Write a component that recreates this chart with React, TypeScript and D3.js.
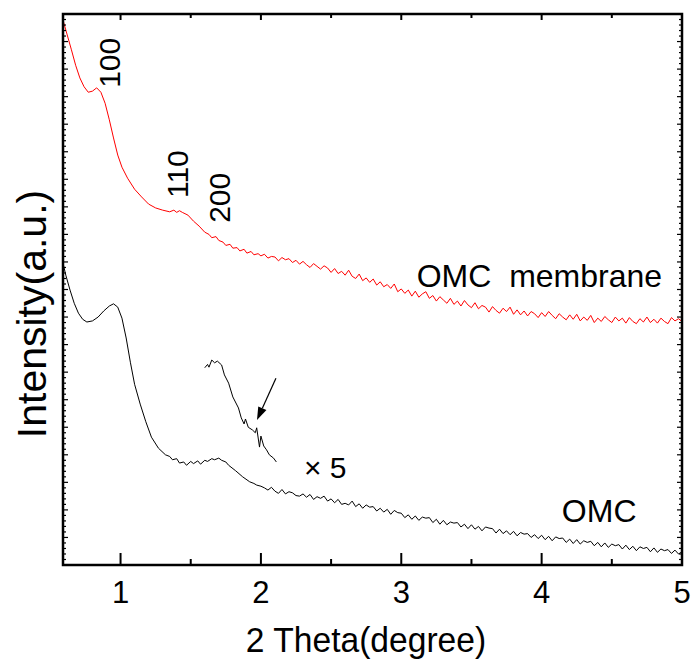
import * as d3 from "d3";
import React from "react";

// OMC membrane (red) – 2θ, intensity (a.u.)
const membrane: [number, number][] = [
  [0.59, 98.9], [0.62, 96.2], [0.65, 93.5], [0.68, 90.7], [0.71, 88.4], [0.74, 86.8],
  [0.77, 85.8], [0.8, 86.0], [0.83, 86.6], [0.86, 85.8], [0.89, 83.8], [0.92, 80.8],
  [0.95, 77.5], [0.98, 74.4], [1.01, 72.2], [1.05, 70.2], [1.1, 68.2], [1.15, 66.8],
  [1.2, 65.5], [1.25, 64.8], [1.3, 64.4], [1.35, 64.1], [1.38, 64.4], [1.4, 64.0],
  [1.42, 64.3], [1.44, 64.0], [1.48, 63.5], [1.52, 62.4], [1.56, 61.5], [1.6, 60.4],
  [1.63, 60.0], [1.65, 59.4], [1.68, 59.6], [1.7, 58.9], [1.73, 58.6], [1.75, 58.0],
  [1.78, 58.2], [1.8, 57.5], [1.83, 57.6], [1.85, 57.0], [1.88, 57.3], [1.9, 56.6],
  [1.93, 56.9], [1.95, 56.3], [1.98, 56.5],
  [2.0, 56.1], [2.025, 56.4], [2.05, 55.7], [2.075, 56.0], [2.1, 55.9], [2.125, 55.2],
  [2.15, 55.8], [2.175, 55.4], [2.2, 55.6], [2.225, 54.9], [2.25, 55.3], [2.275, 54.6],
  [2.3, 55.1], [2.325, 54.5], [2.35, 54.0], [2.375, 54.7], [2.4, 54.2], [2.425, 53.7],
  [2.45, 54.3], [2.475, 53.9], [2.5, 53.1], [2.525, 53.8], [2.55, 52.9], [2.575, 53.3],
  [2.6, 52.6], [2.625, 53.5], [2.65, 52.4], [2.675, 52.0], [2.7, 52.8], [2.725, 51.6],
  [2.75, 52.1], [2.775, 51.3], [2.8, 51.9], [2.825, 50.8], [2.85, 51.4], [2.875, 50.5],
  [2.9, 50.9], [2.925, 50.2], [2.95, 51.0], [2.975, 49.6], [3.0, 50.1], [3.025, 49.3],
  [3.05, 49.9], [3.075, 48.8], [3.1, 49.7], [3.125, 48.6], [3.15, 49.2], [3.175, 49.6],
  [3.2, 48.4], [3.225, 48.9], [3.25, 47.9], [3.275, 48.7], [3.3, 48.1], [3.325, 47.5],
  [3.35, 48.4], [3.375, 47.3], [3.4, 47.9], [3.425, 47.0], [3.45, 48.0], [3.475, 47.2],
  [3.5, 46.7], [3.525, 47.6], [3.55, 46.5], [3.575, 47.1], [3.6, 46.8], [3.625, 45.9],
  [3.65, 46.9], [3.675, 46.2], [3.7, 45.7], [3.725, 46.6], [3.75, 46.0], [3.775, 46.8],
  [3.8, 45.5], [3.825, 46.3], [3.85, 45.4], [3.875, 46.1], [3.9, 45.2], [3.925, 46.0],
  [3.95, 45.6], [3.975, 44.9], [4.0, 45.8], [4.025, 45.1], [4.05, 46.0], [4.075, 45.3],
  [4.1, 44.7], [4.125, 45.6], [4.15, 45.0], [4.175, 44.5], [4.2, 45.4], [4.225, 44.6],
  [4.25, 45.5], [4.275, 44.3], [4.3, 45.0], [4.325, 44.4], [4.35, 45.3], [4.375, 44.0],
  [4.4, 44.8], [4.425, 44.2], [4.45, 45.1], [4.475, 44.5], [4.5, 44.0], [4.525, 45.0],
  [4.55, 44.3], [4.575, 44.8], [4.6, 43.9], [4.625, 44.9], [4.65, 44.2], [4.675, 43.8],
  [4.7, 44.7], [4.725, 44.1], [4.75, 45.0], [4.775, 44.0], [4.8, 44.6], [4.825, 43.9],
  [4.85, 44.8], [4.875, 44.2], [4.9, 43.8], [4.925, 44.9], [4.95, 44.3], [4.975, 44.7],
  [5.0, 44.2],
];

// OMC powder (black)
const omc: [number, number][] = [
  [0.59, 54.8], [0.61, 52.6], [0.64, 49.9], [0.67, 47.5], [0.7, 45.7], [0.73, 44.6],
  [0.76, 44.1], [0.8, 44.3], [0.84, 45.0], [0.88, 46.1], [0.92, 47.0], [0.95, 47.4],
  [0.98, 46.8], [1.01, 44.8], [1.04, 41.2], [1.07, 36.8], [1.1, 32.8], [1.14, 29.2],
  [1.18, 26.0], [1.22, 23.2], [1.27, 21.2], [1.32, 20.0], [1.35, 19.7], [1.37, 19.1],
  [1.4, 19.3], [1.42, 18.5], [1.45, 18.7], [1.47, 18.1], [1.5, 18.8], [1.52, 18.4],
  [1.55, 18.9], [1.57, 18.3], [1.6, 19.0], [1.62, 18.8], [1.65, 19.3], [1.67, 19.1],
  [1.7, 19.4], [1.72, 19.0], [1.75, 18.7], [1.77, 18.1], [1.82, 17.1], [1.87, 16.0],
  [1.92, 15.1], [1.95, 14.8], [1.97, 14.5], [2.0, 14.3],
  [2.025, 14.0], [2.05, 13.6], [2.075, 14.1], [2.1, 13.4], [2.125, 13.0], [2.15, 13.7],
  [2.175, 12.9], [2.2, 13.3], [2.225, 13.1], [2.25, 12.6], [2.275, 12.5], [2.3, 12.9],
  [2.325, 12.3], [2.35, 12.8], [2.375, 11.9], [2.4, 12.4], [2.425, 12.1], [2.45, 12.5],
  [2.475, 11.6], [2.5, 12.0], [2.525, 11.3], [2.55, 11.9], [2.575, 11.0], [2.6, 11.2],
  [2.625, 10.9], [2.65, 11.6], [2.675, 10.6], [2.7, 11.1], [2.725, 10.3], [2.75, 10.9],
  [2.775, 10.5], [2.8, 10.6], [2.825, 9.8], [2.85, 10.3], [2.875, 9.6], [2.9, 10.1],
  [2.925, 9.2], [2.95, 9.9], [2.975, 9.5], [3.0, 9.4], [3.025, 8.6], [3.05, 9.1],
  [3.075, 8.3], [3.1, 8.9], [3.125, 8.1], [3.15, 8.7], [3.175, 8.5], [3.2, 8.6],
  [3.225, 7.7], [3.25, 8.3], [3.275, 7.4], [3.3, 8.1], [3.325, 7.3], [3.35, 7.8],
  [3.375, 7.6], [3.4, 7.7], [3.425, 6.9], [3.45, 7.4], [3.475, 6.6], [3.5, 7.3],
  [3.525, 6.5], [3.55, 7.0], [3.575, 6.2], [3.6, 6.9], [3.625, 6.7], [3.65, 6.6],
  [3.675, 5.8], [3.7, 6.5], [3.725, 5.7], [3.75, 6.2], [3.775, 5.5], [3.8, 6.1],
  [3.825, 5.3], [3.85, 5.9], [3.875, 5.6], [3.9, 5.7], [3.925, 5.0], [3.95, 5.5],
  [3.975, 4.8], [4.0, 5.4], [4.025, 4.6], [4.05, 5.2], [4.075, 4.4], [4.1, 5.1],
  [4.125, 4.8], [4.15, 4.9], [4.175, 4.1], [4.2, 4.7], [4.225, 3.9], [4.25, 4.6],
  [4.275, 3.8], [4.3, 4.4], [4.325, 4.1], [4.35, 4.3], [4.375, 3.5], [4.4, 4.1],
  [4.425, 3.3], [4.45, 4.0], [4.475, 3.2], [4.5, 3.8], [4.525, 3.5], [4.55, 3.7],
  [4.575, 2.9], [4.6, 3.6], [4.625, 2.8], [4.65, 3.4], [4.675, 2.6], [4.7, 3.3],
  [4.725, 3.0], [4.75, 3.2], [4.775, 2.4], [4.8, 3.1], [4.825, 2.3], [4.85, 2.9],
  [4.875, 2.6], [4.9, 2.8], [4.925, 2.1], [4.95, 2.7], [4.975, 2.0], [5.0, 2.4],
];

// x5 magnified segment of OMC around the 110/200 region
const inset: [number, number][] = [
  [1.6, 35.8], [1.62, 36.4], [1.63, 35.9], [1.65, 37.2], [1.67, 36.7], [1.69, 37.0],
  [1.72, 36.3], [1.74, 34.5], [1.77, 33.0], [1.8, 30.5], [1.84, 28.5], [1.86, 26.7],
  [1.88, 25.6], [1.89, 26.5], [1.91, 25.0], [1.94, 24.5], [1.96, 24.0], [1.97, 24.9],
  [1.99, 21.4], [2.0, 23.4], [2.02, 21.6], [2.04, 20.9], [2.06, 20.0], [2.09, 19.4],
  [2.11, 18.7],
];

const xTicks = [1, 2, 3, 4, 5];
const xMinor = [1.5, 2.5, 3.5, 4.5];

// peak indices: label, 2θ position of baseline, intensity where text starts
const peakLabels = ["100", "110", "200"];
const peakX = [0.996, 1.48, 1.78];
const peakY = [86.6, 66.6, 62.1];

const W = 693;
const H = 667;
const M = { left: 63, right: 682, top: 14, bottom: 565 };
const font = "Liberation Sans, Arial, sans-serif";

export default function App() {
  const x = d3.scaleLinear().domain([0.59, 5]).range([M.left, M.right]);
  const y = d3.scaleLinear().domain([0, 100]).range([M.bottom, M.top]);
  const line = d3
    .line<[number, number]>()
    .x((d) => x(d[0]))
    .y((d) => y(d[1]));

  const yMinor = d3.range(1, 100);

  // arrow pointing at the weak 200 reflection
  const a1 = [x(2.107), y(33.9)];
  const a2 = [x(1.972), y(26.3)];
  const ang = Math.atan2(a2[1] - a1[1], a2[0] - a1[0]);
  const hl = 13,
    hw = 4.5;
  const bx = a2[0] - hl * Math.cos(ang),
    by = a2[1] - hl * Math.sin(ang);
  const head = [
    [a2[0], a2[1]],
    [bx + hw * Math.sin(ang), by - hw * Math.cos(ang)],
    [bx - hw * Math.sin(ang), by + hw * Math.cos(ang)],
  ];

  return (
    <svg
      width={W}
      height={H}
      style={{ position: "absolute", left: 0, top: 0, background: "#fff" }}
      fontFamily={font}
    >
      {/* curves */}
      <path d={line(membrane) ?? ""} fill="none" stroke="#ff0000" strokeWidth={1} />
      <path d={line(omc) ?? ""} fill="none" stroke="#000" strokeWidth={1} />
      <path d={line(inset) ?? ""} fill="none" stroke="#000" strokeWidth={1} />

      {/* arrow */}
      <line x1={a1[0]} y1={a1[1]} x2={bx} y2={by} stroke="#000" strokeWidth={1.2} />
      <polygon points={head.map((p) => p.join(",")).join(" ")} fill="#000" />

      {/* y minor ticks both sides */}
      {yMinor.map((v) => (
        <g key={"y" + v}>
          <line x1={M.left} x2={M.left + (v % 5 === 0 ? 5 : 3)} y1={y(v)} y2={y(v)} stroke="#000" strokeWidth={1.2} />
          <line x1={M.right} x2={M.right - (v % 5 === 0 ? 5 : 3)} y1={y(v)} y2={y(v)} stroke="#000" strokeWidth={1.2} />
        </g>
      ))}

      {/* x ticks */}
      {xTicks.map((t) => (
        <g key={"x" + t}>
          <line x1={x(t)} x2={x(t)} y1={M.bottom} y2={M.bottom - 12} stroke="#000" strokeWidth={2} />
          <line x1={x(t)} x2={x(t)} y1={M.top} y2={M.top + 6} stroke="#000" strokeWidth={2} />
          <text x={x(t)} y={603} textAnchor="middle" fontSize={31}>
            {t}
          </text>
        </g>
      ))}
      {xMinor.map((t) => (
        <g key={"xm" + t}>
          <line x1={x(t)} x2={x(t)} y1={M.bottom} y2={M.bottom - 6} stroke="#000" strokeWidth={2} />
          <line x1={x(t)} x2={x(t)} y1={M.top} y2={M.top + 4} stroke="#000" strokeWidth={2} />
        </g>
      ))}

      {/* frame */}
      <rect
        x={M.left}
        y={M.top}
        width={M.right - M.left}
        height={M.bottom - M.top}
        fill="none"
        stroke="#000"
        strokeWidth={2.5}
      />

      {/* peak labels */}
      {peakLabels.map((s, i) => (
        <text
          key={s}
          transform={`translate(${x(peakX[i])},${y(peakY[i])}) rotate(-90)`}
          fontSize={30}
        >
          {s}
        </text>
      ))}

      <text x={x(3.11)} y={y(50.5)} fontSize={32} style={{ whiteSpace: "pre" }}>
        {"OMC  membrane"}
      </text>
      <text x={x(4.144)} y={y(7.8)} fontSize={32}>
        OMC
      </text>
      <text x={x(2.307)} y={y(15.8)} fontSize={30}>
        × 5
      </text>

      {/* axis titles */}
      <text
        transform="translate(366,652) scale(0.96,1)"
        textAnchor="middle"
        fontSize={35}
      >
        2 Theta(degree)
      </text>
      <text
        transform={`translate(46,314) rotate(-90)`}
        textAnchor="middle"
        fontSize={41}
      >
        Intensity(a.u.)
      </text>
    </svg>
  );
}
